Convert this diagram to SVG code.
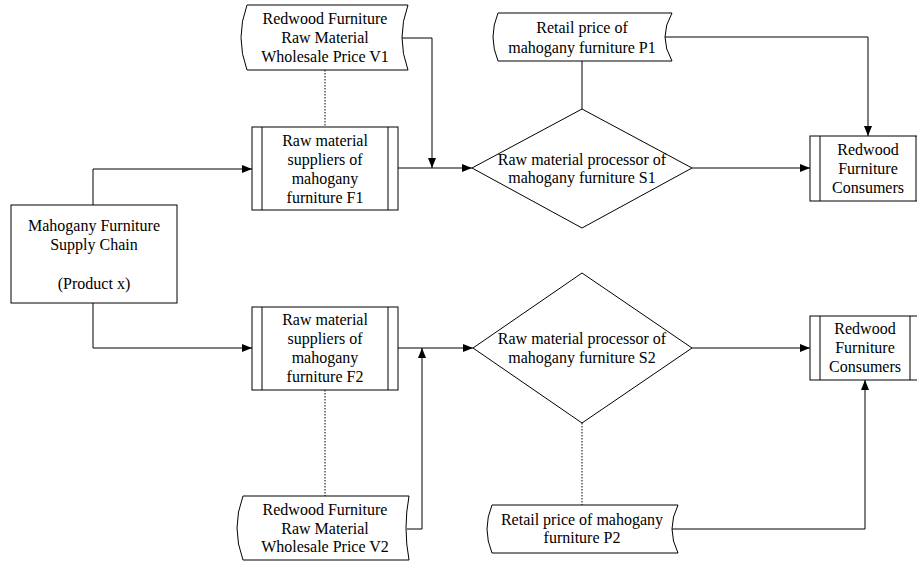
<svg xmlns="http://www.w3.org/2000/svg" width="917" height="564" viewBox="0 0 917 564">
<defs>
<style>
.shape{fill:#fff;stroke:#000;stroke-width:1}
.ln{fill:none;stroke:#000;stroke-width:1}
.dot{fill:none;stroke:#000;stroke-width:1;stroke-dasharray:1.5 1.5}
text{font-family:"Liberation Serif","Times New Roman",serif;font-size:16px;fill:#000;text-anchor:middle}
</style>
<marker id="arr" viewBox="0 0 10 8" refX="10" refY="4" markerWidth="10" markerHeight="8" markerUnits="userSpaceOnUse" orient="auto">
<path d="M0,0 L10,4 L0,8 Z" fill="#000"/>
</marker>
</defs>
<rect width="917" height="564" fill="#fff"/>
<g id="connectors">
<polyline class="ln" points="93,205 93,169 252,169" marker-end="url(#arr)"/>
<polyline class="ln" points="93,303 93,348 252,348" marker-end="url(#arr)"/>
<polyline class="ln" points="398,168 472,168" marker-end="url(#arr)"/>
<polyline class="ln" points="402,38 432,38 432,168" marker-end="url(#arr)"/>
<polyline class="ln" points="582,61 582,109"/>
<polyline class="ln" points="665,37 868,37 868,136" marker-end="url(#arr)"/>
<polyline class="ln" points="692,168 810,168" marker-end="url(#arr)"/>
<polyline class="dot" points="325,70 325,127"/>
<polyline class="ln" points="398,348 473,348" marker-end="url(#arr)"/>
<polyline class="ln" points="407,529 422,529 422,348" marker-end="url(#arr)"/>
<polyline class="dot" points="325,390 325,496"/>
<polyline class="ln" points="692,348 810,348" marker-end="url(#arr)"/>
<polyline class="dot" points="582,423 582,505"/>
<polyline class="ln" points="672,529 865,529 865,380" marker-end="url(#arr)"/>
</g>
<g id="supply-chain">
<rect class="shape" x="11" y="205" width="166" height="98"/>
<text x="94" y="231">Mahogany Furniture</text>
<text x="94" y="250">Supply Chain</text>
<text x="94" y="289">(Product x)</text>
</g>
<g id="v1">
<path class="shape" d="M247,5 L408,5 Q396,37.5 408,70 L247,70 Q235,37.5 247,5 Z"/>
<text x="325" y="24">Redwood Furniture</text>
<text x="325" y="43">Raw Material</text>
<text x="325" y="62">Wholesale Price V1</text>
</g>
<g id="f1">
<rect class="shape" x="252" y="127" width="146" height="83"/>
<line class="ln" x1="262" y1="127" x2="262" y2="210"/>
<line class="ln" x1="388" y1="127" x2="388" y2="210"/>
<text x="325" y="146">Raw material</text>
<text x="325" y="165">suppliers of</text>
<text x="325" y="184">mahogany</text>
<text x="325" y="203">furniture F1</text>
</g>
<g id="p1">
<path class="shape" d="M498,13 L672,13 Q658,37 672,61 L498,61 Q488,37 498,13 Z"/>
<text x="582" y="33">Retail price of</text>
<text x="582" y="53">mahogany furniture P1</text>
</g>
<g id="s1">
<polygon class="shape" points="582,109 692,168 582,228 472,168"/>
<text x="582" y="165">Raw material processor of</text>
<text x="582" y="183">mahogany furniture S1</text>
</g>
<g id="consumers1">
<rect class="shape" x="810" y="136" width="116" height="65"/>
<line class="ln" x1="820" y1="136" x2="820" y2="201"/>
<line class="ln" x1="916" y1="136" x2="916" y2="201"/>
<text x="868" y="155">Redwood</text>
<text x="868" y="174">Furniture</text>
<text x="868" y="193">Consumers</text>
</g>
<g id="f2">
<rect class="shape" x="252" y="307" width="146" height="83"/>
<line class="ln" x1="262" y1="307" x2="262" y2="390"/>
<line class="ln" x1="388" y1="307" x2="388" y2="390"/>
<text x="325" y="325">Raw material</text>
<text x="325" y="344">suppliers of</text>
<text x="325" y="363">mahogany</text>
<text x="325" y="382">furniture F2</text>
</g>
<g id="v2">
<path class="shape" d="M243,496 L409,496 Q403,528 409,560 L243,560 Q231,528 243,496 Z"/>
<text x="325" y="515">Redwood Furniture</text>
<text x="325" y="534">Raw Material</text>
<text x="325" y="552">Wholesale Price V2</text>
</g>
<g id="s2">
<polygon class="shape" points="582,273 692,348 582,423 473,348"/>
<text x="582" y="344">Raw material processor of</text>
<text x="582" y="363">mahogany furniture S2</text>
</g>
<g id="p2">
<path class="shape" d="M492,505 L678,505 Q666,529 678,553 L492,553 Q482,529 492,505 Z"/>
<text x="582" y="525">Retail price of mahogany</text>
<text x="582" y="543">furniture P2</text>
</g>
<g id="consumers2">
<rect class="shape" x="810" y="316" width="116" height="64"/>
<line class="ln" x1="820" y1="316" x2="820" y2="380"/>
<line class="ln" x1="910" y1="316" x2="910" y2="380"/>
<text x="865" y="334">Redwood</text>
<text x="865" y="353">Furniture</text>
<text x="865" y="372">Consumers</text>
</g>
</svg>
